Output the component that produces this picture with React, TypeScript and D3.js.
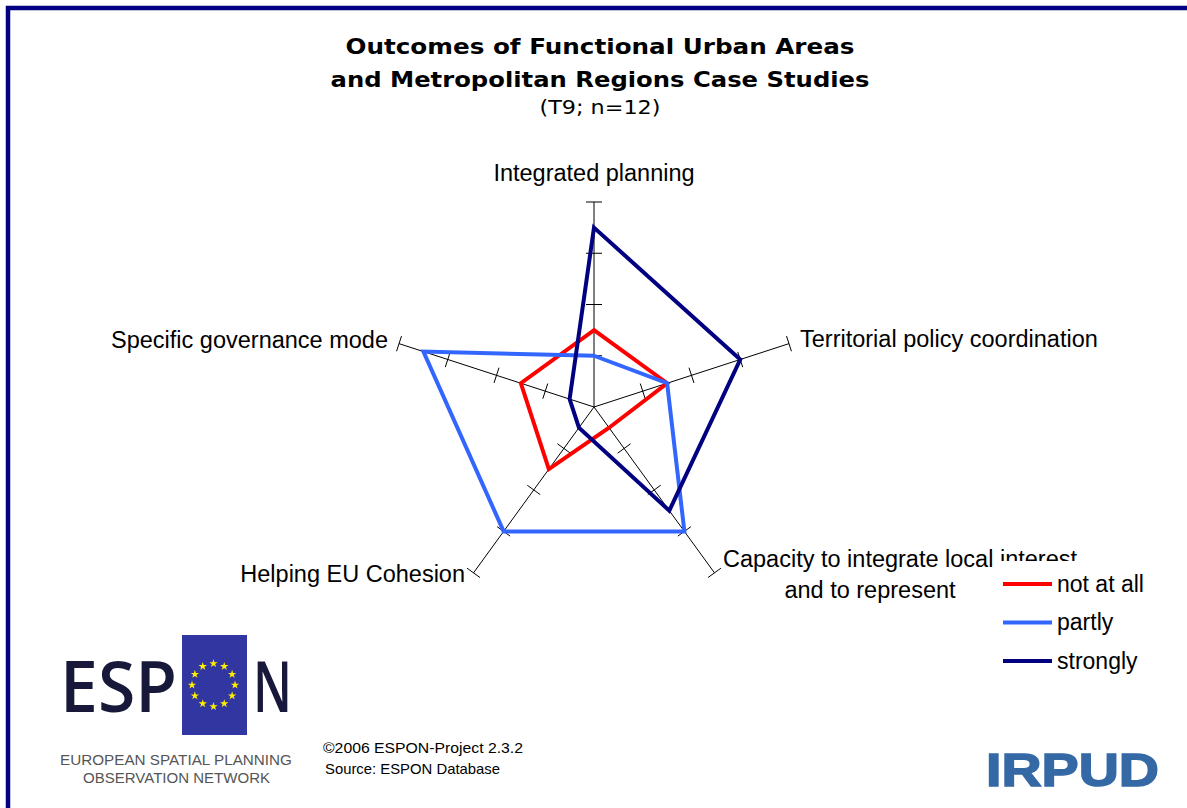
import React from "react";
import * as d3 from "d3";

const axes = [
  "Integrated planning",
  "Territorial policy coordination",
  "Capacity to integrate local interest|and to represent",
  "Helping EU Cohesion",
  "Specific governance mode",
];
const seriesNames = ["not at all", "partly", "strongly"];
const notAtAll = [3, 3, 1, 3, 3];
const partly = [2, 3, 6, 6, 7];
const strongly = [7, 6, 5, 1, 1];
const tickValues = [2, 4, 6, 8];
const colors = ["#ff0000", "#3366ff", "#000080"];

const W = 1187;
const H = 808;
const cx = 594;
const cy = 407;

export default function App() {
  const r = d3.scaleLinear().domain([0, 8]).range([0, 205]);
  const ang = d3.scaleLinear().domain([0, axes.length]).range([0, 2 * Math.PI]);
  const pt = (i: number, v: number): [number, number] => {
    const a = ang(i);
    return [cx + r(v) * Math.sin(a), cy - r(v) * Math.cos(a)];
  };
  const line = d3.line<[number, number]>().curve(d3.curveLinearClosed);
  const series = [notAtAll, partly, strongly];

  const stars = d3.range(12).map((k) => {
    const a = (k / 12) * 2 * Math.PI;
    return [213.5 + 21.5 * Math.sin(a), 685 - 21.5 * Math.cos(a)];
  });
  const starPath = d3.symbol(d3.symbolStar, 22)() as string;

  const labelFont = "'Liberation Sans', Arial, sans-serif";
  const lf = 23.5;

  return (
    <svg
      width={W}
      height={H}
      style={{ position: "absolute", left: 0, top: 0, background: "#fff" }}
    >
      <rect x={0} y={0} width={W} height={H} fill="#fff" />
      {/* frame */}
      <path d={`M8,${H} V8 H${W}`} fill="none" stroke="#000080" strokeWidth={4.5} />

      {/* title */}
      <g fontFamily="'DejaVu Sans', Verdana, sans-serif" textAnchor="middle" fill="#000">
        <text x={600} y={54} fontSize={22} fontWeight="bold" textLength={509} lengthAdjust="spacingAndGlyphs">
          Outcomes of Functional Urban Areas
        </text>
        <text x={600} y={87} fontSize={22} fontWeight="bold" textLength={539} lengthAdjust="spacingAndGlyphs">
          and Metropolitan Regions Case Studies
        </text>
        <text x={600} y={114} fontSize={19} textLength={121} lengthAdjust="spacingAndGlyphs">
          (T9; n=12)
        </text>
      </g>

      {/* axes */}
      <g stroke="#000" strokeWidth={1}>
        {axes.map((_, i) => {
          const [x2, y2] = pt(i, 8);
          const a = ang(i);
          const px = Math.cos(a);
          const py = Math.sin(a);
          return (
            <g key={i}>
              <line x1={cx} y1={cy} x2={x2} y2={y2} />
              {tickValues.map((v) => {
                const [tx, ty] = pt(i, v);
                return (
                  <line
                    key={v}
                    x1={tx - 8 * px}
                    y1={ty - 8 * py}
                    x2={tx + 8 * px}
                    y2={ty + 8 * py}
                  />
                );
              })}
            </g>
          );
        })}
      </g>

      {/* series */}
      {series.map((vals, s) => (
        <path
          key={s}
          d={line(vals.map((v, i) => pt(i, v))) as string}
          fill="none"
          stroke={colors[s]}
          strokeWidth={4}
          strokeLinejoin="miter"
        />
      ))}

      {/* axis labels */}
      <g fontFamily={labelFont} fontSize={lf} fill="#000">
        <text x={594} y={181} textAnchor="middle">{axes[0]}</text>
        <text x={800} y={347} textAnchor="start">{axes[1]}</text>
        <text x={723} y={567} textAnchor="start">{axes[2].split("|")[0]}</text>
        <text x={870} y={598} textAnchor="middle">{axes[2].split("|")[1]}</text>
        <text x={465} y={582} textAnchor="end">{axes[3]}</text>
        <text x={388} y={348} textAnchor="end">{axes[4]}</text>
      </g>

      {/* legend */}
      <rect x={1000} y={561} width={170} height={115} fill="#fff" />
      <g fontFamily={labelFont} fontSize={23} fill="#000">
        {seriesNames.map((n, s) => {
          const y = 584 + s * 38.5;
          return (
            <g key={n}>
              <line x1={1003} x2={1052} y1={y} y2={y} stroke={colors[s]} strokeWidth={4} />
              <text x={1057} y={y + 7.5}>{n}</text>
            </g>
          );
        })}
      </g>

      {/* ESPON logo */}
      <rect x={182} y={635} width={65} height={100} fill="#3136a0" />
      {stars.map(([x, y], k) => (
        <path key={k} d={starPath} transform={`translate(${x},${y})`} fill="#ffee00" />
      ))}
      <g fontFamily="'Open Sans', 'Noto Sans', sans-serif" fill="#17183a" fontWeight={600}>
        <text x={60} y={712} fontSize={70} textLength={117} lengthAdjust="spacingAndGlyphs">ESP</text>
        <text x={253} y={712} fontSize={70} textLength={39} lengthAdjust="spacingAndGlyphs">N</text>
      </g>
      <g fontFamily={labelFont} fill="#555" fontSize={15}>
        <text x={60} y={765} textLength={232} lengthAdjust="spacingAndGlyphs">EUROPEAN SPATIAL PLANNING</text>
        <text x={83} y={783} textLength={187} lengthAdjust="spacingAndGlyphs">OBSERVATION NETWORK</text>
      </g>
      <g fontFamily={labelFont} fill="#000" fontSize={15}>
        <text x={323} y={753} textLength={200} lengthAdjust="spacingAndGlyphs">©2006 ESPON-Project 2.3.2</text>
        <text x={325} y={774} textLength={175} lengthAdjust="spacingAndGlyphs">Source: ESPON Database</text>
      </g>

      {/* IRPUD */}
      <text
        x={986}
        y={786}
        fontFamily={labelFont}
        fontWeight="bold"
        fontSize={46}
        fill="#3569a5"
        stroke="#3569a5"
        strokeWidth={1.5}
        textLength={173}
        lengthAdjust="spacingAndGlyphs"
      >
        IRPUD
      </text>
    </svg>
  );
}
